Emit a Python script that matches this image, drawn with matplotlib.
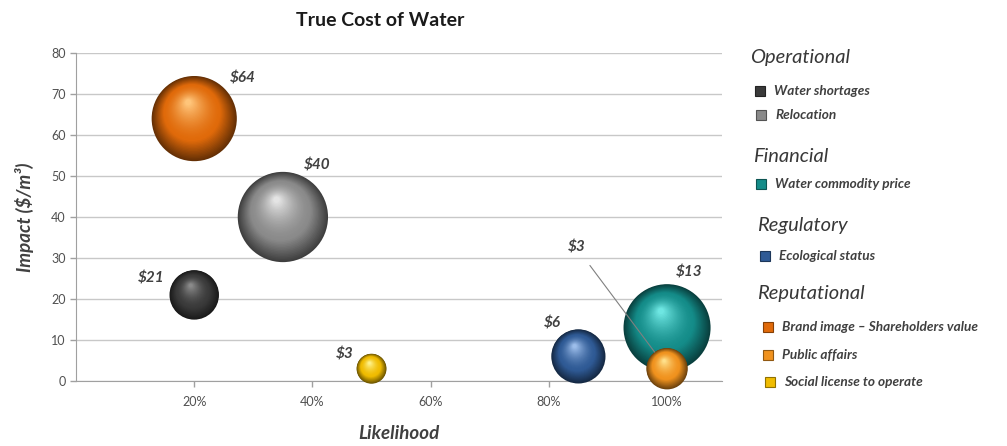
import numpy as np
import matplotlib
matplotlib.use("Agg")
import matplotlib.pyplot as plt
from matplotlib.colors import to_rgb
from matplotlib.transforms import ScaledTranslation
from matplotlib.ticker import FuncFormatter

plt.rcParams['font.family'] = ['Lato', 'DejaVu Sans']

# data
risks = ["Water shortages", "Relocation", "Water commodity price", "Ecological status",
         "Brand image \u2013 Shareholders value", "Public affairs", "Social license to operate"]
groups = ["Operational", "Operational", "Financial", "Regulatory",
          "Reputational", "Reputational", "Reputational"]
likelihood = [0.20, 0.35, 1.00, 0.85, 0.20, 1.00, 0.50]
impact = [21, 40, 13, 6, 64, 3, 3]
bubble_size = [30, 100, 93, 36, 89, 21, 11]
colors = ["#3a3a3a", "#8a8a8a", "#148c89", "#2f5a95", "#e06a0a", "#f0921e", "#f0bc00"]
highlights = ["#8a8a8a", "#e4e4e4", "#6ee6e2", "#9cbdea", "#ffc57a", "#ffe08a", "#fff28a"]
x_ticks = [0.2, 0.4, 0.6, 0.8, 1.0]
y_ticks = [0, 10, 20, 30, 40, 50, 60, 70, 80]

# label offsets (points) from bubble centre
label_off = [(-31, 12), (25, 37), (16, 40), (-19, 24), (35, 29), (-65, 87), (-19, 10)]

txt = "#404040"
fig = plt.figure(figsize=(10.07, 4.46), dpi=100)
ax = fig.add_axes([0.0755, 0.1457, 0.6415, 0.7355])


def sphere(ax, x, y, diam, base, light, z):
    base = np.array(to_rgb(base))
    light = np.array(to_rgb(light))
    dark = base * 0.45
    R = diam / 2
    n = 40
    for i in range(n):
        t = i / (n - 1)
        r = R * (1 - 0.93 * t)
        if t < 0.35:
            c = dark + (base - dark) * (t / 0.35)
        else:
            c = base + (light - base) * ((t - 0.35) / 0.65) ** 1.6
        dx, dy = -0.14 * R * t, 0.38 * R * t
        tr = ax.transData + ScaledTranslation(dx / 72, dy / 72, fig.dpi_scale_trans)
        ax.scatter([x], [y], s=(2 * r) ** 2, color=c, edgecolors="none",
                   transform=tr, zorder=z, clip_on=False)


for i in range(len(risks)):
    diam = 65 * np.sqrt(bubble_size[i] / 100)
    sphere(ax, likelihood[i], impact[i], diam, colors[i], highlights[i], 3 + i)
    lab = "$" + str(impact[i])
    if risks[i] == "Public affairs":
        ax.annotate(lab, (likelihood[i], impact[i]), xytext=label_off[i], textcoords="offset points",
                    ha="center", va="center", fontsize=11, fontweight="bold", fontstyle="italic",
                    color=txt, zorder=20,
                    arrowprops=dict(arrowstyle="-", color="#808080", lw=0.8,
                                    shrinkA=7, shrinkB=diam / 2))
    else:
        ax.annotate(lab, (likelihood[i], impact[i]), xytext=label_off[i], textcoords="offset points",
                    ha="center", va="center", fontsize=11, fontweight="bold", fontstyle="italic",
                    color=txt, zorder=20)

ax.set_xlim(0, 1.093)
ax.set_ylim(0, 80)
ax.set_xticks(x_ticks)
ax.set_yticks(y_ticks)
ax.xaxis.set_major_formatter(FuncFormatter(lambda v, p: f"{v * 100:.0f}%"))
ax.tick_params(axis="both", colors="#a0a0a0", labelcolor="#505050", labelsize=9, length=4, width=1)
ax.tick_params(axis="x", pad=7)
ax.grid(axis="y", color="#c8c8c8", lw=1)
ax.set_axisbelow(True)
for s in ["top", "right"]:
    ax.spines[s].set_visible(False)
for s in ["left", "bottom"]:
    ax.spines[s].set_color("#a0a0a0")
ax.set_xlabel("Likelihood", fontsize=13.5, fontweight="bold", fontstyle="italic", color=txt, labelpad=12)
ax.set_ylabel("Impact ($/m\u00b3)", fontsize=13.5, fontweight="bold", fontstyle="italic", color=txt, labelpad=12)
fig.text(0.378, 0.953, "True Cost of Water", ha="center", va="center", fontsize=14, fontweight="bold", color="#1a1a1a")

# legend on the right
W, H = 1007, 446
heads = {"Operational": (750, 57), "Financial": (753, 157), "Regulatory": (757, 225), "Reputational": (757, 293)}
for g, (hx, hy) in heads.items():
    fig.text(hx / W, 1 - hy / H, g, ha="left", va="center", fontsize=14.5, fontstyle="italic",
             color="#383838")
item_pos = [(760, 91), (761, 115), (761, 184), (765, 256), (768, 327), (768, 355), (770, 382)]
for i, name in enumerate(risks):
    px, py = item_pos[i]
    fig.patches.append(plt.Rectangle(((px - 5) / W, 1 - (py + 5) / H), 10 / W, 10 / H,
                                     transform=fig.transFigure, facecolor=colors[i],
                                     edgecolor=np.array(to_rgb(colors[i])) * 0.6, lw=0.8))
    fig.text((px + 14) / W, 1 - py / H, name, ha="left", va="center", fontsize=9.8,
             fontweight="bold", fontstyle="italic", color=txt)

fig.savefig("out.png", dpi=100)
